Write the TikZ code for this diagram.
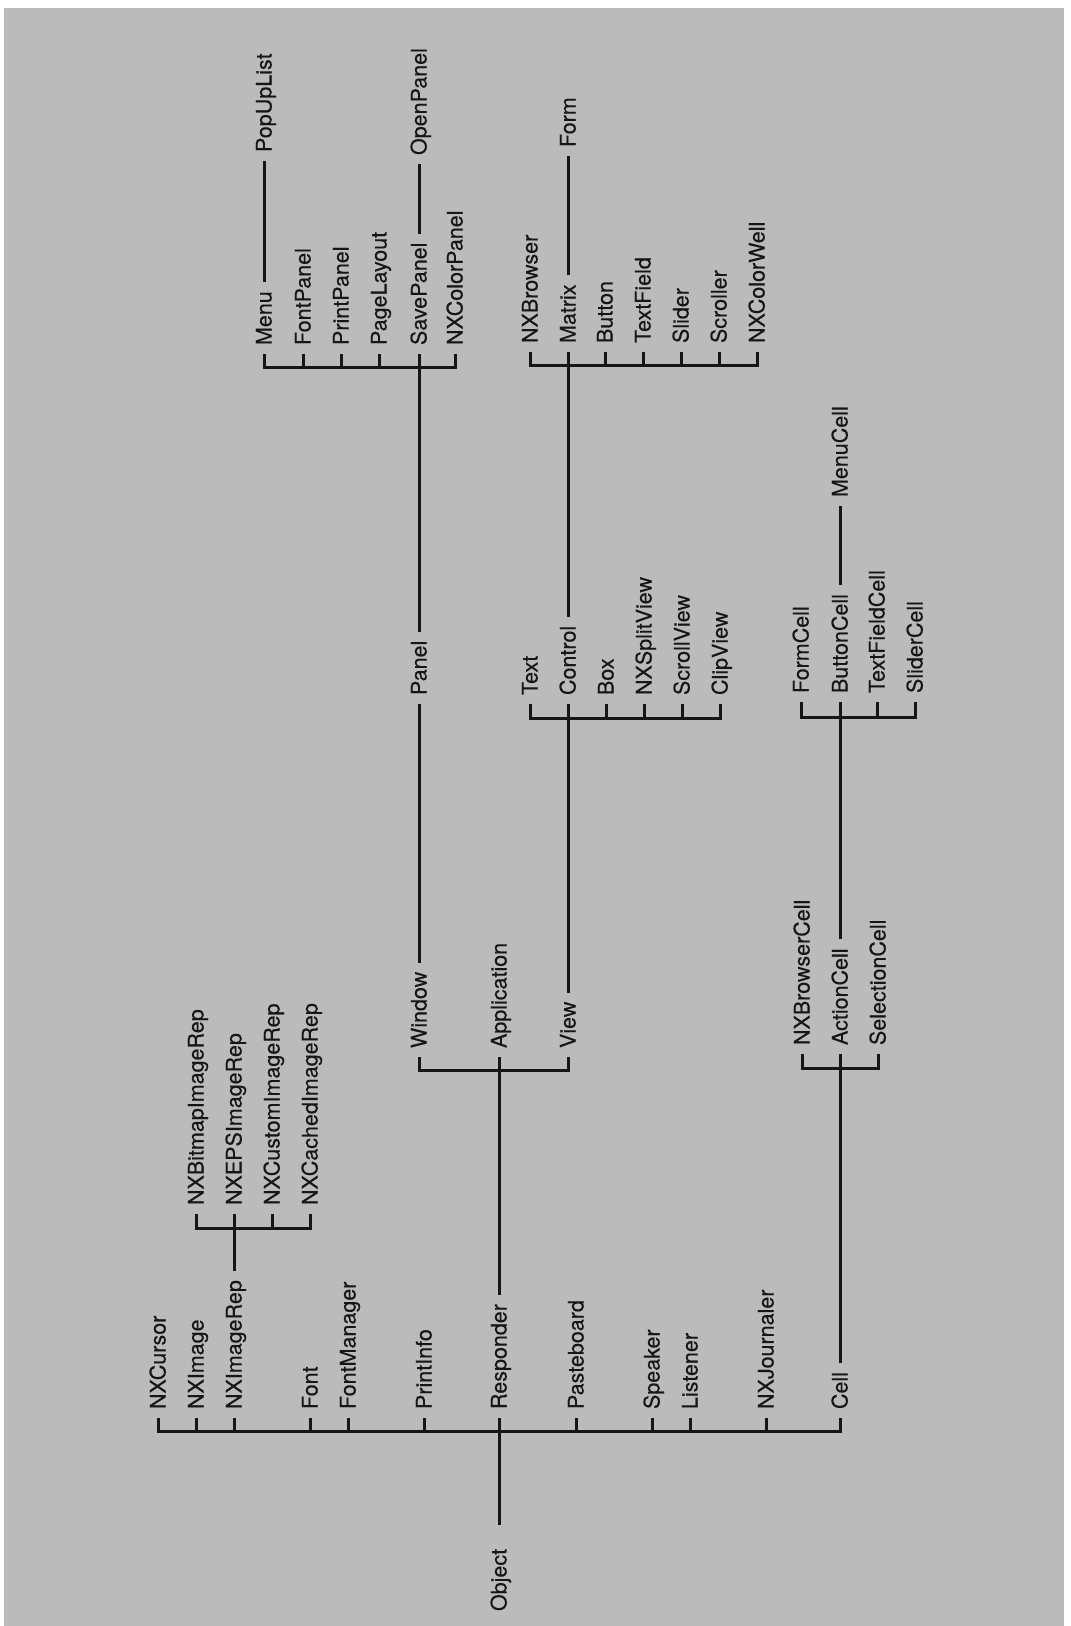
\documentclass[tikz,border=0pt]{standalone}
\usepackage{fontspec}
\setmainfont{TeX Gyre Heros}[FakeBold=0.3]
\definecolor{bggray}{RGB}{187,187,187}
\definecolor{inkc}{RGB}{22,22,22}
\begin{document}
\begin{tikzpicture}[x=1pt,y=-1pt,
  cls/.style={rotate=90, anchor=west, inner sep=0pt, outer xsep=9pt, outer ysep=0pt,
    text height=15pt, text depth=0pt, text=inkc, font=\fontsize{21.5}{21.5}\selectfont},
  ln/.style={line width=3.0pt, draw=inkc}]
\useasboundingbox (0,0) rectangle (1071,1626);
\fill[white] (0,0) rectangle (1071,1626);
\fill[bggray] (4,8) rectangle (1064,1626);

% root
\node[cls] (Object) at (499,1620) {Object};
% level 1
\foreach \nm/\xx in {NXCursor/158, NXImage/196, NXImageRep/234, Font/310, FontManager/348,
  PrintInfo/424, Responder/499, Pasteboard/576, Speaker/652, Listener/690, NXJournaler/766, Cell/840}
  \node[cls] (\nm) at (\xx,1418) {\nm};
% NXImageRep children
\foreach \nm/\xx in {NXBitmapImageRep/196, NXEPSImageRep/234, NXCustomImageRep/272, NXCachedImageRep/310}
  \node[cls] (\nm) at (\xx,1214) {\nm};
% Responder children
\foreach \nm/\xx in {Window/419, Application/499, View/568}
  \node[cls] (\nm) at (\xx,1057) {\nm};
% Cell children
\foreach \nm/\xx in {NXBrowserCell/802, ActionCell/840, SelectionCell/878}
  \node[cls] (\nm) at (\xx,1054) {\nm};
% Window child
\node[cls] (Panel) at (419,704) {Panel};
% View children
\foreach \nm/\xx in {Text/530, Control/568, Box/606, NXSplitView/644, ScrollView/682, ClipView/720}
  \node[cls] (\nm) at (\xx,704) {\nm};
% ActionCell children
\foreach \nm/\xx in {FormCell/801, ButtonCell/840, TextFieldCell/877, SliderCell/915}
  \node[cls] (\nm) at (\xx,702) {\nm};
\node[cls] (MenuCell) at (840,506) {MenuCell};
% Panel children
\foreach \nm/\xx in {Menu/264, FontPanel/303, PrintPanel/341, PageLayout/379, SavePanel/419, NXColorPanel/455}
  \node[cls] (\nm) at (\xx,354) {\nm};
% Control children
\foreach \nm/\xx in {NXBrowser/530, Matrix/568, Button/605, TextField/643, Slider/681, Scroller/719, NXColorWell/757}
  \node[cls] (\nm) at (\xx,352) {\nm};
\node[cls] (PopUpList) at (264,161) {PopUpList};
\node[cls] (OpenPanel) at (419,164) {OpenPanel};
\node[cls] (Form) at (568,156) {Form};

% ---- connectors ----
% Object -> level 1
\draw[ln] (NXCursor.west) |- (Cell.west |- 0,1431) -- (Cell.west);
\foreach \nm in {NXImage, NXImageRep, Font, FontManager, PrintInfo, Pasteboard, Speaker, Listener, NXJournaler}
  \draw[ln] (\nm.west) -- (\nm.west |- 0,1431);
\draw[ln, shorten <=15pt] (Object.east) -- (Responder.west);
% NXImageRep
\draw[ln] (NXBitmapImageRep.west) |- (NXCachedImageRep.west |- 0,1228) -- (NXCachedImageRep.west);
\foreach \nm in {NXCustomImageRep}
  \draw[ln] (\nm.west) -- (\nm.west |- 0,1228);
\draw[ln] (NXImageRep.east) -- (NXEPSImageRep.west);
% Responder
\draw[ln] (Window.west) |- (View.west |- 0,1070) -- (View.west);
\draw[ln] (Responder.east) -- (Application.west);
% Cell
\draw[ln] (NXBrowserCell.west) |- (SelectionCell.west |- 0,1068) -- (SelectionCell.west);
\draw[ln] (Cell.east) -- (ActionCell.west);
% Window -> Panel
\draw[ln] (Window.east) -- (Panel.west);
% View
\draw[ln] (Text.west) |- (ClipView.west |- 0,718) -- (ClipView.west);
\foreach \nm in {Box, NXSplitView, ScrollView}
  \draw[ln] (\nm.west) -- (\nm.west |- 0,718);
\draw[ln] (View.east) -- (Control.west);
% ActionCell
\draw[ln] (FormCell.west) |- (SliderCell.west |- 0,717) -- (SliderCell.west);
\draw[ln] (TextFieldCell.west) -- (TextFieldCell.west |- 0,717);
\draw[ln] (ActionCell.east) -- (ButtonCell.west);
\draw[ln] (ButtonCell.east) -- (MenuCell.west);
% Panel
\draw[ln] (Menu.west) |- (NXColorPanel.west |- 0,367) -- (NXColorPanel.west);
\foreach \nm in {FontPanel, PrintPanel, PageLayout}
  \draw[ln] (\nm.west) -- (\nm.west |- 0,367);
\draw[ln] (Panel.east) -- (SavePanel.west);
\draw[ln] (Menu.east) -- (PopUpList.west);
\draw[ln] (SavePanel.east) -- (OpenPanel.west);
% Control
\draw[ln] (NXBrowser.west) |- (NXColorWell.west |- 0,365) -- (NXColorWell.west);
\foreach \nm in {Button, TextField, Slider, Scroller}
  \draw[ln] (\nm.west) -- (\nm.west |- 0,365);
\draw[ln] (Control.east) -- (Matrix.west);
\draw[ln] (Matrix.east) -- (Form.west);
\end{tikzpicture}
\end{document}
